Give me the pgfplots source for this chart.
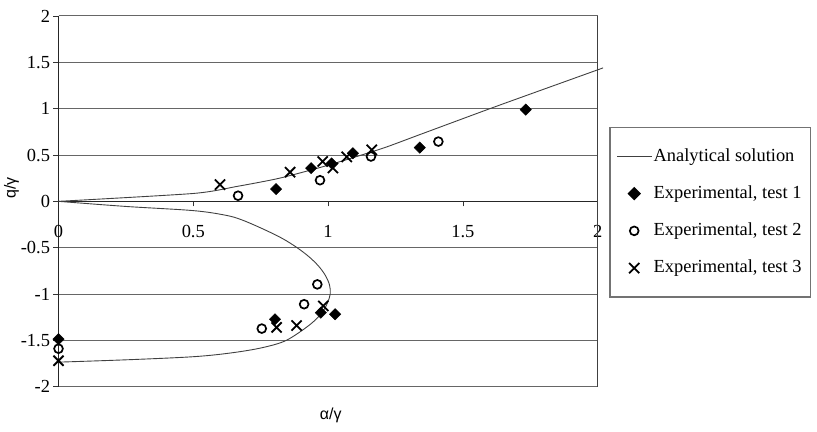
\documentclass[border=0pt]{standalone}
\usepackage{pgfplots}
\pgfplotsset{compat=1.18}
\usepackage{fontspec}
\setmainfont{Liberation Serif}
\newfontfamily\labelfont{Liberation Sans}
\begin{document}
\begin{tikzpicture}
\useasboundingbox (0,0) rectangle (817bp,432bp);
\begin{axis}[
  at={(58.5bp,45.3bp)}, anchor=south west,
  scale only axis, width=539.2bp, height=370.7bp,
  xmin=0, xmax=2, ymin=-2, ymax=2,
  axis x line=middle, axis y line=left,
  axis line style={-, color=black!85, line width=1.1pt},
  every inner x axis line/.append style={-},
  every outer y axis line/.append style={-},
  hide obscured x ticks=false,
  xtick={0,0.5,1,1.5,2}, xticklabels={0,0.5,1,1.5,2},
  ytick={-2,-1.5,-1,-0.5,0,0.5,1,1.5,2},
  yticklabels={-2,-1.5,-1,-0.5,0,0.5,1,1.5,2},
  tick align=outside, major tick length=5bp,
  tick style={black!80, line width=0.8pt},
  ymajorgrids, grid style={black!60, line width=1pt},
  tick label style={font=\fontsize{18.5}{20}\selectfont},
  xticklabel style={yshift=-15bp},
  xlabel={α/γ}, ylabel={q/γ},
  every axis x label/.style={at={(axis description cs:0.505,-0.0763)}, anchor=center, font=\labelfont\fontsize{16}{18}\selectfont},
  every axis y label/.style={at={(axis description cs:-0.087,0.536)}, rotate=90, anchor=center, font=\labelfont\fontsize{16}{18}\selectfont},
  clip=false,
  legend image code/.code={\draw[mark repeat=2,mark phase=2,#1] plot coordinates {(0bp,0bp) (17bp,0bp) (34bp,0bp)};},
  legend cell align=left,
  legend style={at={(axis description cs:1.021,0.7006)}, anchor=north west,
    draw=black!55, line width=1.5pt, fill=white,
    inner xsep=7bp, inner ysep=18bp, row sep=15.7bp,
    font=\fontsize{18.5}{20}\selectfont,
    nodes={inner sep=2bp, text height=13.5bp, text depth=4bp}},
]
% analytical solution, upper branch
\addplot[black!75, line width=0.9pt, smooth, tension=0.4] coordinates {
(0,0) (0.5,0.085) (0.66,0.16) (0.82,0.25) (1.0,0.39) (1.2,0.57) (1.34,0.72) (1.6,1.0) (1.8,1.21) (2.02,1.44)};
\addlegendentry{Analytical solution}
% analytical solution, lower branch
\addplot[black!75, line width=0.9pt, smooth, tension=0.55, forget plot] coordinates {
(0,0) (0.25,-0.055) (0.5,-0.1) (0.62,-0.15) (0.68,-0.2) (0.76,-0.3) (0.83,-0.4) (0.885,-0.5) (0.93,-0.6) (0.965,-0.7) (0.99,-0.8) (1.005,-0.9) (1.008,-1.0) (0.997,-1.1) (0.978,-1.2) (0.945,-1.3) (0.9,-1.4) (0.845,-1.5) (0.79,-1.555) (0.71,-1.605) (0.6,-1.65) (0.48,-1.68) (0.25,-1.71) (0,-1.735)};
% test 1
\addplot[only marks, mark=square*, mark size=4bp, black, mark options={fill=black, rotate=45}] coordinates {
(0.807,0.132) (0.937,0.358) (1.013,0.41) (1.092,0.519) (1.34,0.58) (1.733,0.99)
(0.803,-1.272) (0.973,-1.201) (1.026,-1.218) (0,-1.487)};
\addlegendentry{Experimental, test 1}
% test 2
\addplot[only marks, mark=o, mark size=4.4bp, black, line width=1.7pt] coordinates {
(0.666,0.061) (0.97,0.228) (1.159,0.484) (1.409,0.645)
(0.754,-1.373) (0.911,-1.11) (0.96,-0.896) (0,-1.59)};
\addlegendentry{Experimental, test 2}
% test 3
\addplot[only marks, mark=x, mark size=7.2bp, black, line width=1.8pt] coordinates {
(0.599,0.18) (0.859,0.315) (0.98,0.43) (1.018,0.36) (1.069,0.48) (1.162,0.556)
(0.809,-1.36) (0.883,-1.34) (0.982,-1.129) (0,-1.72)};
\addlegendentry{Experimental, test 3}
\draw[black!75, line width=1pt] (axis cs:2,-2) -- (axis cs:2,2);
\end{axis}
\end{tikzpicture}
\end{document}
